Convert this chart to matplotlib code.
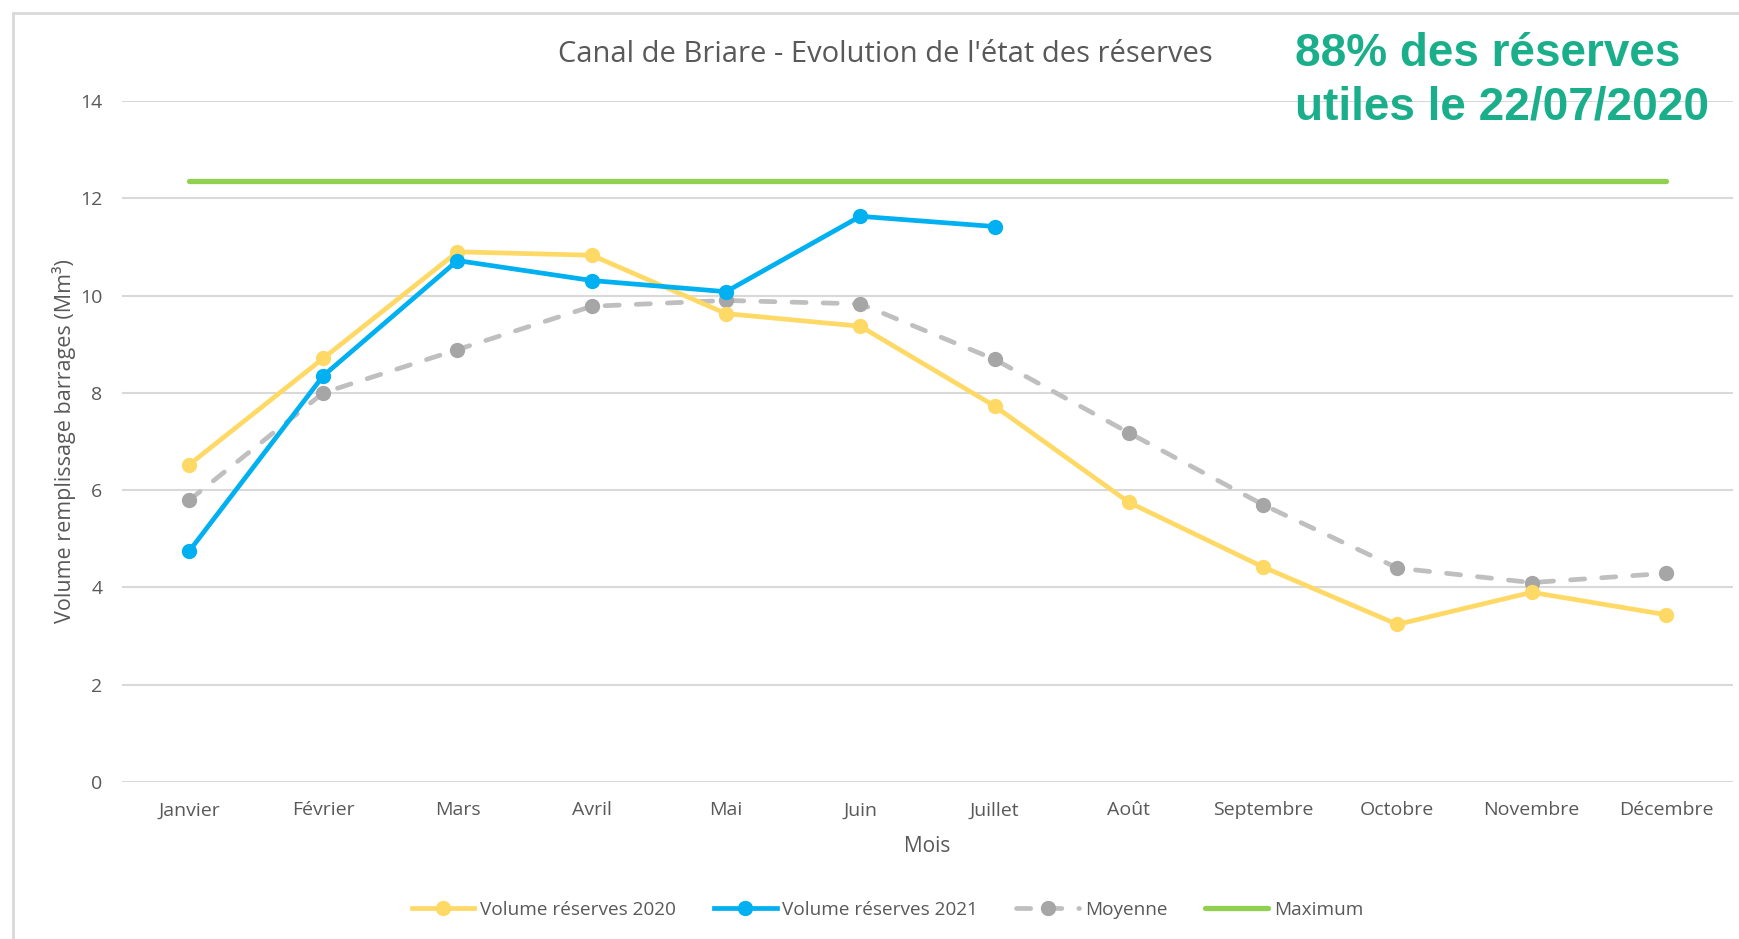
import matplotlib.pyplot as plt
from matplotlib.patches import Rectangle

mois = ['Janvier', 'Février', 'Mars', 'Avril', 'Mai', 'Juin', 'Juillet',
        'Août', 'Septembre', 'Octobre', 'Novembre', 'Décembre']
vol_2020 = [6.52, 8.71, 10.9, 10.83, 9.63, 9.37, 7.73, 5.75, 4.42, 3.24, 3.9, 3.44]
vol_2021 = [4.74, 8.35, 10.72, 10.31, 10.08, 11.63, 11.42]
moyenne = [5.79, 8.0, 8.89, 9.78, 9.9, 9.83, 8.69, 7.18, 5.7, 4.4, 4.1, 4.29]
maximum = [12.36] * 12

plt.rcParams['font.family'] = ['Open Sans', 'DejaVu Sans']
txt = '#595959'

fig = plt.figure(figsize=(17.4, 9.39), dpi=100)
fig.patches.append(Rectangle((13/1740, -0.01), 1.0, 1 - 13/939 + 0.01, transform=fig.transFigure,
                             fill=False, edgecolor='#D9D9D9', lw=2))
ax = fig.add_axes([0.070, 0.1672, 0.926, 0.7252])

x = list(range(len(mois)))
ax.plot(x, maximum, color='#92D050', lw=3.8, label='Maximum', zorder=2, solid_capstyle='round')
ax.plot(x, moyenne, color='#BFBFBF', lw=3.4, ls=(0, (3, 3.6)), dash_capstyle='round', marker='o', ms=10,
        mfc='#A6A6A6', mec='#A6A6A6', label='Moyenne', zorder=3)
ax.plot(x, vol_2020, color='#FFD966', lw=3.4, marker='o', ms=10, label='Volume réserves 2020', zorder=4)
ax.plot(x[:len(vol_2021)], vol_2021, color='#00B0F0', lw=3.4, marker='o', ms=10,
        label='Volume réserves 2021', zorder=5)

ax.set_xlim(-0.5, 11.5)
ax.set_ylim(0, 14)
ax.set_yticks(range(0, 15, 2))
ax.set_xticks(x)
ax.set_xticklabels(mois)
ax.grid(axis='y', color='#D9D9D9', lw=1.5)
ax.set_axisbelow(True)
for s in ax.spines.values():
    s.set_visible(False)
ax.tick_params(length=0, colors=txt, labelsize=14, pad=14)
ax.tick_params(axis='y', pad=14)
ax.set_xlabel('Mois', fontsize=15, color=txt, labelpad=12)
ax.set_ylabel('Volume remplissage barrages (Mm³)', fontsize=15.5, color=txt, labelpad=3)

fig.text(0.509, 0.942, "Canal de Briare - Evolution de l'état des réserves", ha='center', va='center',
         fontsize=21, color=txt)
fig.text(0.744, 0.914, '88% des réserves\nutiles le 22/07/2020', ha='left', va='center',
         fontsize=33, fontweight='bold', color='#1AAF8A', family=['Liberation Sans', 'DejaVu Sans'],
         linespacing=1.3)

h, l = ax.get_legend_handles_labels()
order = [2, 3, 1, 0]
fig.legend([h[i] for i in order], [l[i] for i in order], loc='center', bbox_to_anchor=(0.51, 0.031),
           ncol=4, frameon=False, fontsize=13.7, labelcolor=txt, handlelength=3.3, columnspacing=2.0,
           handletextpad=0.3)

fig.savefig('out.png', dpi=100)
